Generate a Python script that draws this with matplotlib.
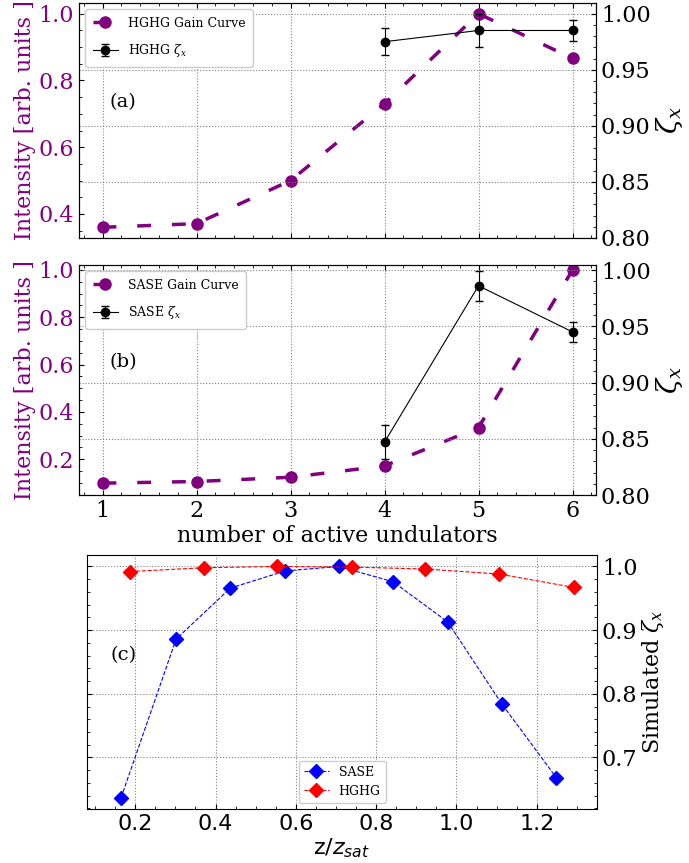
import matplotlib
matplotlib.use("Agg")
import matplotlib.pyplot as plt
from matplotlib.ticker import AutoMinorLocator

plt.rcParams['font.family'] = 'DejaVu Serif'
plt.rcParams['mathtext.fontset'] = 'dejavuserif'

PURPLE = '#800080'

# ---- data ----
undulators = [1, 2, 3, 4, 5, 6]
hghg_gain = [0.360, 0.371, 0.500, 0.730, 1.000, 0.866]
sase_gain = [0.099, 0.106, 0.124, 0.172, 0.334, 1.000]

zeta_x_und = [4, 5, 6]
hghg_zeta = [0.975, 0.985, 0.985]
hghg_zeta_err = [0.012, 0.015, 0.0095]
sase_zeta = [0.847, 0.986, 0.945]
sase_zeta_err = [0.015, 0.0135, 0.0087]

sim_sase_z = [0.165, 0.302, 0.437, 0.574, 0.707, 0.842, 0.978, 1.113, 1.249]
sim_sase_zeta = [0.637, 0.886, 0.966, 0.993, 1.000, 0.976, 0.913, 0.784, 0.668]
sim_hghg_z = [0.187, 0.372, 0.554, 0.740, 0.922, 1.107, 1.293]
sim_hghg_zeta = [0.992, 0.998, 1.000, 0.999, 0.996, 0.988, 0.967]

W, H = 689, 863
fig = plt.figure(figsize=(W / 100, H / 100), dpi=100)

def frac(l, t, r, b):
    return [l / W, 1 - b / H, (r - l) / W, (b - t) / H]

def setup_pair(rect, gain, gain_lab, zeta, zeta_err, zeta_lab, panel, rylim, show_x):
    ax = fig.add_axes(rect)
    ax.plot(undulators, gain, color=PURPLE, ls=(0, (4, 6)), lw=2.5, marker='o',
            ms=8, label=gain_lab)
    ax.set_xlim(0.75, 6.25)
    ax.set_ylabel('Intensity [arb. units ]', color=PURPLE, fontsize=16, labelpad=2)
    ax.tick_params(axis='y', labelcolor=PURPLE, labelsize=16)
    ax.tick_params(axis='x', labelsize=16)
    ax.tick_params(which='both', direction='in', top=True)
    ax.xaxis.set_minor_locator(AutoMinorLocator(5))
    ax.yaxis.set_minor_locator(AutoMinorLocator(4))
    ax.grid(axis='x', ls=':', color='gray', lw=0.8)
    if not show_x:
        ax.tick_params(axis='x', labelbottom=False)
    else:
        ax.set_xlabel('number of active undulators', fontsize=16, labelpad=2)
    ax2 = ax.twinx()
    ax2.errorbar(zeta_x_und, zeta, yerr=zeta_err, color='black', marker='o', ms=6,
                 lw=0.8, capsize=3, elinewidth=0.8, label=zeta_lab)
    ax2.set_ylim(*rylim)
    ax2.set_yticks([0.80, 0.85, 0.90, 0.95, 1.00])
    ax2.yaxis.set_minor_locator(AutoMinorLocator(5))
    ax2.tick_params(which='both', direction='in', labelsize=16)
    ax2.grid(axis='y', ls=':', color='gray', lw=0.8)
    ax2.set_ylabel(r'$\zeta_x$', fontsize=20, labelpad=2)
    h1, l1 = ax.get_legend_handles_labels()
    h2, l2 = ax2.get_legend_handles_labels()
    ax2.legend(h1 + h2, l1 + l2, loc='upper left', fontsize=9, framealpha=1,
               labelspacing=1.0, borderpad=0.6)
    ax.text(0.085, 0.58, panel, transform=ax.transAxes, fontsize=14,
            ha='center', va='center')
    return ax, ax2

axa, axa2 = setup_pair(frac(79, 3, 596, 238), hghg_gain, 'HGHG Gain Curve',
                       hghg_zeta, hghg_zeta_err, r'HGHG $\zeta_x$', '(a)',
                       (0.80, 1.0095), False)
axa.set_ylim(0.328, 1.032)
axa.set_yticks([0.4, 0.6, 0.8, 1.0])

axb, axb2 = setup_pair(frac(79, 265, 596, 495), sase_gain, 'SASE Gain Curve',
                       sase_zeta, sase_zeta_err, r'SASE $\zeta_x$', '(b)',
                       (0.80, 1.0045), True)
axb.set_ylim(0.049, 1.021)
axb.set_yticks([0.2, 0.4, 0.6, 0.8, 1.0])

# ---- panel (c) ----
axc = fig.add_axes(frac(87, 555, 597, 809))
axc.plot(sim_sase_z, sim_sase_zeta, color='blue', ls='--', lw=0.8, marker='D',
         ms=7, label='SASE')
axc.plot(sim_hghg_z, sim_hghg_zeta, color='red', ls='--', lw=0.8, marker='D',
         ms=7, label='HGHG')
axc.set_xlim(0.08, 1.35)
axc.set_ylim(0.619, 1.018)
axc.set_xticks([0.2, 0.4, 0.6, 0.8, 1.0, 1.2])
axc.set_yticks([0.7, 0.8, 0.9, 1.0])
axc.xaxis.set_minor_locator(AutoMinorLocator(4))
axc.yaxis.set_minor_locator(AutoMinorLocator(5))
axc.tick_params(which='both', direction='in', left=True, right=True,
                labelleft=False, labelright=True)
axc.tick_params(axis='y', labelsize=16)
axc.tick_params(axis='x', labelsize=16)
for t in axc.get_xticklabels():
    t.set_family('DejaVu Sans')
axc.yaxis.set_label_position('right')
axc.set_ylabel(r'Simulated $\zeta_x$', fontsize=16, labelpad=2)
axc.set_xlabel(r'z/$z_{sat}$', fontsize=16, family='DejaVu Sans', labelpad=2)
axc.xaxis.label.set_math_fontfamily('dejavusans')
axc.grid(ls=':', color='gray', lw=0.8)
axc.legend(loc='lower center', fontsize=9, framealpha=1)
axc.text(0.071, 0.606, '(c)', transform=axc.transAxes, fontsize=14,
         ha='center', va='center')

fig.savefig('out.png', dpi=100)
